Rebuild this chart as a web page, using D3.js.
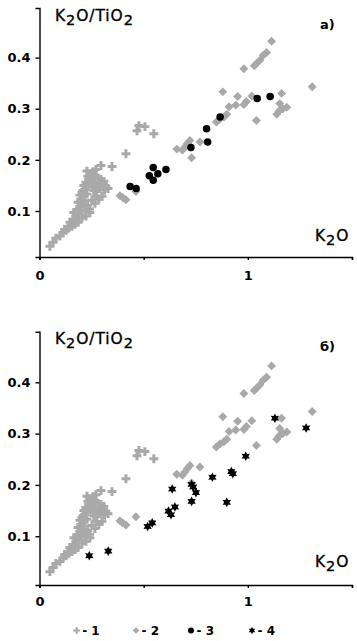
<!DOCTYPE html>
<html><head><meta charset="utf-8">
<script src="https://cdn.jsdelivr.net/npm/d3@7"></script>
<style>
html,body{margin:0;padding:0;background:#fff;}
svg{display:block;}
</style></head>
<body>
<svg id="chart" width="357" height="641"></svg>
<script>
// ---- Data ----
const s1K2O = [0.050,0.065,0.079,0.098,0.113,0.127,0.137,0.156,0.170,0.146,0.161,0.175,0.189,0.165,0.180,0.194,0.209,0.185,0.199,0.213,0.228,0.204,0.218,0.232,0.247,0.223,0.237,0.252,0.266,0.242,0.257,0.271,0.232,0.213,0.194,0.261,0.276,0.290,0.305,0.319,0.329,0.309,0.295,0.285,0.271,0.252,0.232,0.266,0.285,0.300,0.218,0.242,0.204,0.185,0.223,0.281,0.261,0.295,0.348,0.415,0.468,0.477,0.506,0.549,0.257,0.175,0.120,0.150,0.199,0.215,0.250,0.228,0.209,0.240,0.275,0.312];
const s1Ratio = [0.031,0.039,0.047,0.051,0.058,0.062,0.066,0.070,0.074,0.078,0.084,0.090,0.094,0.097,0.103,0.109,0.113,0.117,0.123,0.129,0.133,0.136,0.142,0.148,0.152,0.156,0.162,0.166,0.170,0.173,0.177,0.181,0.168,0.150,0.131,0.140,0.144,0.148,0.152,0.148,0.144,0.158,0.162,0.156,0.129,0.121,0.111,0.115,0.123,0.129,0.101,0.097,0.086,0.078,0.090,0.164,0.154,0.189,0.187,0.212,0.257,0.267,0.265,0.251,0.148,0.082,0.064,0.072,0.100,0.120,0.160,0.178,0.140,0.104,0.138,0.141];

const s2K2O = [1.114,1.090,1.073,1.058,1.043,1.031,0.981,1.309,0.880,1.162,0.951,1.019,0.993,0.981,0.942,0.910,1.153,1.187,1.149,1.139,1.168,1.041,0.899,0.885,0.866,0.849,0.770,0.722,0.710,0.698,0.686,0.659,0.730,0.386,0.400,0.415,0.463];
const s2Ratio = [0.432,0.410,0.404,0.395,0.389,0.384,0.378,0.343,0.333,0.330,0.324,0.325,0.314,0.308,0.307,0.304,0.310,0.303,0.295,0.289,0.300,0.277,0.289,0.284,0.280,0.274,0.235,0.238,0.232,0.225,0.219,0.221,0.204,0.130,0.126,0.122,0.138];

const s3K2O = [0.435,0.464,0.527,0.546,0.546,0.568,0.607,0.727,0.802,0.807,0.867,1.045,1.107];
const s3Ratio = [0.148,0.144,0.169,0.185,0.160,0.173,0.181,0.224,0.261,0.235,0.284,0.320,0.324];

const s4K2O = [0.239,0.330,0.519,0.541,0.619,0.631,0.650,0.637,0.730,0.730,0.738,0.751,0.830,0.921,0.928,0.899,0.990,1.130,1.280];
const s4Ratio = [0.062,0.071,0.119,0.126,0.149,0.142,0.157,0.192,0.168,0.201,0.196,0.185,0.215,0.226,0.222,0.166,0.256,0.330,0.311];

const xTicks = [0, 0.5, 1, 1.5];
const xTickLabels = {0: "0", 1: "1"};
const yTicks = [0.1, 0.2, 0.3, 0.4];
const legendLabels = ["- 1", "- 2", "- 3", "- 4"];
const panelLabels = ["a)", "б)"];

// ---- Drawing ----
const svg = d3.select("#chart");
const GRAY = "#a9a9a9";
const FONT = "'DejaVu Sans', Verdana, sans-serif";

const star6 = {
  draw(ctx, size) {
    const R = Math.sqrt(size) * 0.62, r = R * 0.55;
    for (let i = 0; i < 12; i++) {
      const a = -Math.PI / 2 + i * Math.PI / 6;
      const rr = i % 2 === 0 ? R : r;
      const px = rr * Math.cos(a), py = rr * Math.sin(a);
      if (i === 0) ctx.moveTo(px, py); else ctx.lineTo(px, py);
    }
    ctx.closePath();
  }
};

const marks = {
  1: {type: d3.symbolCross, size: 44, fill: GRAY, rot: 0, lsize: 24},
  2: {type: d3.symbolSquare, size: 40, fill: GRAY, rot: 45, lsize: 22},
  3: {type: d3.symbolCircle, size: 44, fill: "#000", rot: 0, lsize: 28},
  4: {type: star6, size: 60, fill: "#000", rot: 0, lsize: 36}
};

function zip(a, b) { return a.map((v, i) => [v, b[i]]); }

function panel(opts) {
  const g = svg.append("g");
  const x = d3.scaleLinear().domain([0, 1.5]).range([39.5, 352]);
  const y = d3.scaleLinear().domain(opts.yDomain).range(opts.yRange);

  opts.series.forEach(s => {
    const m = marks[s.id];
    g.append("g").selectAll("path").data(zip(s.xs, s.ys)).join("path")
      .attr("d", d3.symbol().type(m.type).size(m.size))
      .attr("transform", d => `translate(${x(d[0])},${y(d[1])}) rotate(${m.rot})`)
      .attr("fill", m.fill);
  });

  const xAxis = g.append("g").attr("transform", `translate(0,${opts.yRange[0]})`)
    .call(d3.axisBottom(x).tickValues(xTicks).tickSizeOuter(0).tickSize(3)
      .tickPadding(opts.xPad).tickFormat(d => xTickLabels[d] || ""));
  const yAxis = g.append("g").attr("transform", `translate(39.5,0)`)
    .call(d3.axisLeft(y).tickValues(yTicks).tickSizeOuter(0).tickSize(4)
      .tickPadding(5).tickFormat(d3.format(".1f")));
  [xAxis, yAxis].forEach(a => {
    a.selectAll("path,line").attr("stroke", "#000").attr("stroke-width", 1.4);
    a.selectAll("text").attr("font-family", FONT).attr("font-weight", "bold")
      .attr("font-size", 13).attr("fill", "#000");
  });

  const t = g.append("text").attr("x", 55).attr("y", opts.titleY)
    .attr("font-family", FONT).attr("font-size", 15.5).attr("letter-spacing", 0.9)
    .attr("fill", "#000").attr("stroke", "#000").attr("stroke-width", 0.35);
  t.append("tspan").text("K");
  t.append("tspan").attr("dy", 4).attr("font-size", 14.5).text("2");
  t.append("tspan").attr("dy", -4).text("O/TiO");
  t.append("tspan").attr("dy", 4).attr("font-size", 14.5).text("2");

  const k = g.append("text").attr("x", 315).attr("y", opts.kY)
    .attr("font-family", FONT).attr("font-size", 15.5).attr("letter-spacing", 0.9)
    .attr("fill", "#000").attr("stroke", "#000").attr("stroke-width", 0.35);
  k.append("tspan").text("K");
  k.append("tspan").attr("dy", 4).attr("font-size", 14.5).text("2");
  k.append("tspan").attr("dy", -4).text("O");

  g.append("text").attr("x", 320).attr("y", opts.labelY).text(opts.label)
    .attr("font-family", FONT).attr("font-size", 13).attr("font-weight", "bold").attr("fill", "#000");
}

panel({
  yDomain: [0.01, 0.497], yRange: [257, 8], xPad: 11,
  titleY: 20.5, kY: 240.5, labelY: 28.5, label: panelLabels[0],
  series: [{id: 1, xs: s1K2O, ys: s1Ratio}, {id: 2, xs: s2K2O, ys: s2Ratio}, {id: 3, xs: s3K2O, ys: s3Ratio}]
});
panel({
  yDomain: [0.005, 0.4986], yRange: [585, 331.7], xPad: 9,
  titleY: 344, kY: 566.5, labelY: 351, label: panelLabels[1],
  series: [{id: 1, xs: s1K2O, ys: s1Ratio}, {id: 2, xs: s2K2O, ys: s2Ratio}, {id: 4, xs: s4K2O, ys: s4Ratio}]
});

// legend
const legendX = [76.7, 136, 191, 252];
const lg = svg.append("g");
legendLabels.forEach((lab, i) => {
  const m = marks[i + 1];
  lg.append("path").attr("d", d3.symbol().type(m.type).size(m.lsize)())
    .attr("transform", `translate(${legendX[i]},630.5) rotate(${m.rot})`)
    .attr("fill", m.fill);
  lg.append("text").attr("x", legendX[i] + 5.5).attr("y", 635).text(lab)
    .attr("font-family", FONT).attr("font-size", 12).attr("font-weight", "bold").attr("fill", "#000");
});
</script>
</body></html>
